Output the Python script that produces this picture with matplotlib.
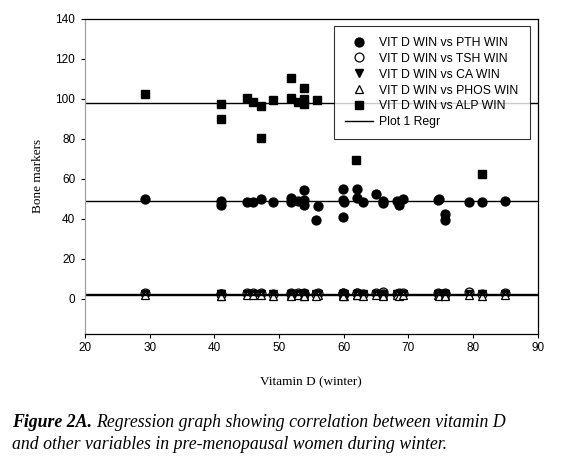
import numpy as np
import matplotlib
matplotlib.use("Agg")
from matplotlib import pyplot as plt

plt.rcParams["font.family"] = ["Liberation Sans", "DejaVu Sans"]
plt.rcParams["font.size"] = 8.5

# vitamin D values (winter) shared by PTH / TSH / CA / PHOS
vitd = [29.3, 41.1, 41.1, 45.0, 46.0, 47.2, 49.0, 51.9, 51.9, 53.0, 53.8, 53.8, 53.8,
        56.0, 55.7, 59.9, 59.9, 60.1, 59.9, 62.0, 62.0, 63.0, 65.0, 66.0, 66.0,
        68.2, 68.6, 69.1, 74.6, 74.8, 75.7, 75.7, 79.4, 81.4, 84.9]
pth = [50.0, 48.7, 47.0, 48.2, 48.2, 49.8, 48.2, 50.3, 48.2, 48.7, 54.5, 49.5, 47.0,
       46.2, 39.2, 54.8, 49.5, 48.2, 40.7, 55.0, 50.3, 48.2, 52.3, 49.0, 48.0,
       49.0, 47.0, 50.0, 49.5, 49.8, 42.5, 39.5, 48.2, 48.2, 49.0]
tsh = [2.8, 2.6, 2.4, 2.9, 2.7, 2.8, 2.6, 2.9, 2.5, 2.7, 2.8, 2.4, 2.6,
       2.7, 2.5, 3.0, 2.8, 2.6, 2.4, 2.9, 2.7, 2.6, 2.8, 3.4, 2.6,
       2.5, 2.7, 2.9, 2.8, 2.6, 2.7, 2.5, 3.2, 2.6, 2.8]
ca = [2.3, 2.3, 2.2, 2.4, 2.3, 2.3, 2.3, 2.4, 2.3, 2.3, 2.4, 2.3, 2.3,
      2.3, 2.2, 2.4, 2.3, 2.3, 2.2, 2.4, 2.3, 2.3, 2.4, 2.3, 2.3,
      2.3, 2.2, 2.3, 2.4, 2.3, 2.3, 2.2, 2.3, 2.3, 2.3]
phos = [1.8, 1.6, 1.5, 1.9, 1.7, 1.8, 1.6, 1.8, 1.5, 1.7, 1.9, 1.6, 1.5,
        1.7, 1.6, 1.8, 1.7, 1.6, 1.5, 1.9, 1.7, 1.6, 1.8, 2.0, 1.6,
        1.7, 1.6, 1.8, 1.7, 1.6, 1.7, 1.5, 1.9, 1.6, 1.7]

vitd_alp = [29.3, 41.1, 41.1, 45.0, 46.0, 47.2, 47.2, 49.0, 51.9, 51.9, 53.0, 53.8,
            53.8, 53.8, 55.8, 61.9, 81.4]
alp = [102.3, 97.3, 90.2, 100.3, 98.7, 96.5, 80.3, 99.5, 110.7, 100.3, 98.7, 105.3,
       99.8, 97.3, 99.5, 69.5, 62.3]

# flat regression lines (Plot 1 Regr)
regr_levels = [97.8, 49.0, 2.3, 1.8]

fig = plt.figure(figsize=(5.82, 4.63), dpi=100)
ax = fig.add_axes([0.146, 0.279, 0.778, 0.680])

ms = 6.4
ax.plot(vitd, pth, "o", color="black", ms=ms, label="VIT D WIN vs PTH WIN")
ax.plot(vitd, tsh, "o", mfc="white", mec="black", mew=0.9, ms=ms, label="VIT D WIN vs TSH WIN")
ax.plot(vitd, ca, "v", color="black", ms=ms, label="VIT D WIN vs CA WIN")
ax.plot(vitd, phos, "^", mfc="white", mec="black", mew=0.9, ms=ms, label="VIT D WIN vs PHOS WIN")
ax.plot(vitd_alp, alp, "s", color="black", ms=5.8, label="VIT D WIN vs ALP WIN")
for i, lv in enumerate(regr_levels):
    ax.axhline(lv, color="black", lw=1.0, label="Plot 1 Regr" if i == 0 else None)

ax.set_xlim(20, 90)
ax.set_ylim(-17.5, 140)
ax.set_xticks(np.arange(20, 91, 10))
ax.set_yticks(np.arange(0, 141, 20))
ax.tick_params(direction="out", length=3, width=0.8, pad=3, labelsize=8.5)
ax.tick_params(axis="y", pad=4)
for s in ax.spines.values():
    s.set_linewidth(0.9)
ax.spines["left"].set_color("#a0a0a0")

ax.set_xlabel("Vitamin D (winter)", family="Liberation Serif", fontsize=9.5, labelpad=16)
ax.set_ylabel("Bone markers", family="Liberation Serif", fontsize=9.5, labelpad=8)

leg = ax.legend(loc="upper right", bbox_to_anchor=(0.99, 0.99), fontsize=8.8,
                frameon=True, fancybox=False, edgecolor="black", handlelength=2.3,
                borderpad=0.9, labelspacing=0.32, handletextpad=0.5, borderaxespad=0.3)
leg.get_frame().set_linewidth(0.8)

# caption
serif = "Liberation Serif"
t1 = fig.text(12 / 582, 1 - 427 / 463, "Figure 2A.", family=serif, style="italic",
              weight="bold", fontsize=12.75)
fig.canvas.draw()
bb = t1.get_window_extent(fig.canvas.get_renderer())
fig.text((bb.x1 + 4) / 582, 1 - 427 / 463,
         "Regression graph showing correlation between vitamin D",
         family=serif, style="italic", fontsize=12.75)
fig.text(12 / 582, 1 - 449 / 463,
         "and other variables in pre-menopausal women during winter.",
         family=serif, style="italic", fontsize=12.75)

fig.savefig("out.png", dpi=100)
